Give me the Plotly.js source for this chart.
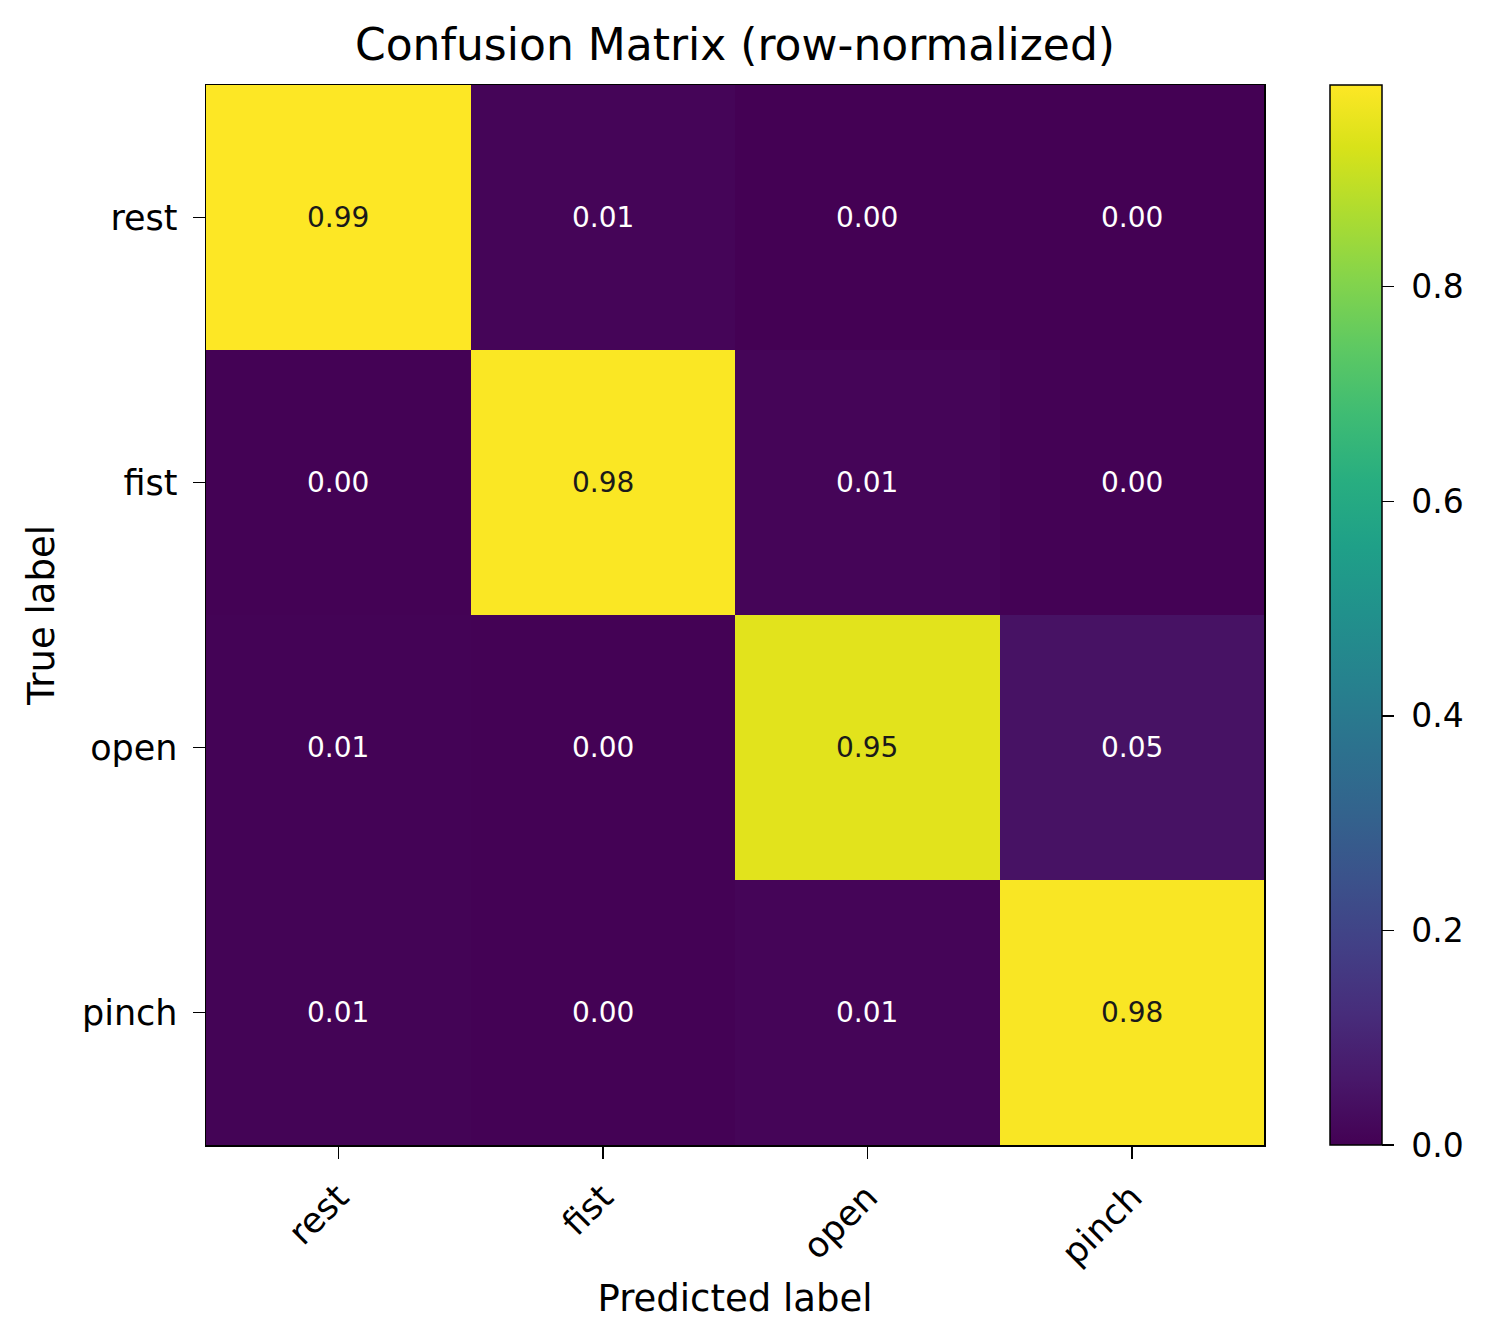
<!DOCTYPE html>
<html>
<head>
<meta charset="utf-8">
<script src="https://cdn.plot.ly/plotly-3.0.1.min.js"></script>
<style>html,body{margin:0;padding:0;background:#fff;}#chart{width:1488px;height:1336px;}</style>
</head>
<body>
<div id="chart"></div>
<script>
const predictedLabels = ["rest", "fist", "open", "pinch"];
const trueLabels = ["rest", "fist", "open", "pinch"];
const rowRest  = [0.988, 0.010, 0.001, 0.001];
const rowFist  = [0.004, 0.983, 0.010, 0.003];
const rowOpen  = [0.006, 0.002, 0.946, 0.046];
const rowPinch = [0.007, 0.002, 0.010, 0.981];
const colorbarTicks = [0.0, 0.2, 0.4, 0.6, 0.8];

const z = [rowRest, rowFist, rowOpen, rowPinch];
const zMax = Math.max(...z.flat());
const font = "DejaVu Sans, Liberation Sans, sans-serif";

const trace = {
  type: "heatmap",
  x: predictedLabels,
  y: trueLabels,
  z: z,
  colorscale: "Viridis",
  zmin: 0,
  zmax: zMax,
  hoverinfo: "skip",
  xgap: 0, ygap: 0,
  colorbar: {
    x: 1.0624, xanchor: "left", xref: "paper",
    y: 0.5, yanchor: "middle", len: 1, lenmode: "fraction",
    thickness: 52, thicknessmode: "pixels",
    outlinewidth: 1.5, outlinecolor: "#000",
    tickmode: "array", tickvals: colorbarTicks,
    ticktext: colorbarTicks.map(v => "\u00a0" + v.toFixed(1)),
    ticks: "outside", ticklen: 12, tickwidth: 1.5, tickcolor: "#000",
    tickfont: {family: font, size: 33, color: "#000"},
    xpad: 0, ypad: 0
  }
};

const annotations = [];
z.forEach((row, i) => row.forEach((v, j) => {
  annotations.push({
    x: predictedLabels[j], y: trueLabels[i], xref: "x", yref: "y",
    text: v.toFixed(2), showarrow: false,
    font: {family: font, size: 28, color: v > zMax / 2 ? "#1a1a1a" : "#ffffff"}
  });
}));

const layout = {
  width: 1488, height: 1336,
  margin: {l: 206, r: 224, t: 85, b: 191, pad: 0},
  paper_bgcolor: "#fff", plot_bgcolor: "#fff",
  title: {
    text: "Confusion Matrix (row-normalized)",
    font: {family: font, size: 44, color: "#000"},
    x: 0.5, xref: "paper", xanchor: "center",
    y: 1 - 45/1336, yref: "container", yanchor: "middle"
  },
  xaxis: {
    type: "category",
    tickangle: -45,
    ticks: "outside", ticklen: 12, tickwidth: 1.5, tickcolor: "#000",
    tickfont: {family: font, size: 35, color: "#000"},
    ticklabelstandoff: 4,
    showline: true, linecolor: "#000", linewidth: 1.5, mirror: true,
    showgrid: false, zeroline: false, automargin: false,
    title: {text: "Predicted label", font: {family: font, size: 37, color: "#000"}, standoff: 13}
  },
  yaxis: {
    type: "category",
    autorange: "reversed",
    ticks: "outside", ticklen: 12, tickwidth: 1.5, tickcolor: "#000",
    tickfont: {family: font, size: 35, color: "#000"},
    ticklabelstandoff: 8,
    showline: true, linecolor: "#000", linewidth: 1.5, mirror: true,
    showgrid: false, zeroline: false, automargin: false,
    title: {text: "True label", font: {family: font, size: 37, color: "#000"}, standoff: 16}
  },
  annotations: annotations,
  showlegend: false
};

Plotly.newPlot("chart", [trace], layout, {displayModeBar: false, staticPlot: true});
</script>
</body>
</html>
